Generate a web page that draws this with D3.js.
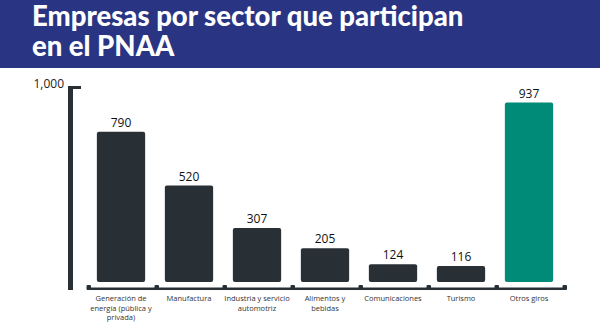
<!DOCTYPE html>
<html>
<head>
<meta charset="utf-8">
<script src="https://cdn.jsdelivr.net/npm/d3@7"></script>
<style>
  body { margin: 0; background: #fff; }
  svg { display: block; }
</style>
</head>
<body>
<div id="chart"></div>
<script>
// data
var categories = [
    ["Generación de", "energía (pública y", "privada)"],
    ["Manufactura"],
    ["Industria y servicio", "automotriz"],
    ["Alimentos y", "bebidas"],
    ["Comunicaciones"],
    ["Turismo"],
    ["Otros giros"]
];
var values = [790, 520, 307, 205, 124, 116, 937];
var yTicks = [1000];
var titleLines = ["Empresas por sector que participan", "en el PNAA"];

var width = 600, height = 324;
var dark = "#283036", teal = "#008a78", navy = "#293583";

var svg = d3.select("#chart").append("svg")
    .attr("width", width)
    .attr("height", height);

// header band
svg.append("rect")
    .attr("x", 0).attr("y", 0)
    .attr("width", width).attr("height", 68)
    .attr("fill", navy);

svg.selectAll(".title")
    .data(titleLines)
    .enter().append("text")
    .attr("class", "title")
    .attr("x", 32)
    .attr("y", function(d, i) { return 26 + i * 30; })
    .attr("fill", "#fff")
    .style("font-family", "Lato, sans-serif")
    .style("font-weight", 900)
    .style("font-size", "27.5px")
    .text(function(d) { return d; });

// scales
var keys = d3.range(values.length);
var xScale = d3.scaleBand()
    .domain(keys)
    .range([87, 563])
    .paddingInner(0.29)
    .paddingOuter(0.145);

var yScale = d3.scaleLinear()
    .domain([0, 1000])
    .range([289, 90]);

var x0 = xScale.range()[0];
var step = xScale.step();

// y axis: thick bar with a tick at the top
var yTop = yScale(1000) - 4;
svg.append("rect")
    .attr("x", 68).attr("y", yTop)
    .attr("width", 5).attr("height", yScale(0) + 1 - yTop)
    .attr("fill", dark);
svg.selectAll(".ytick")
    .data(yTicks)
    .enter().append("rect")
    .attr("class", "ytick")
    .attr("x", 68)
    .attr("y", function(d) { return yScale(d) - 4; })
    .attr("width", 13).attr("height", 3)
    .attr("fill", dark);
svg.selectAll(".ylabel")
    .data(yTicks)
    .enter().append("text")
    .attr("class", "ylabel")
    .attr("x", 64)
    .attr("y", function(d) { return yScale(d) - 2; })
    .attr("text-anchor", "end")
    .attr("fill", "#222")
    .style("font-family", "'Open Sans', sans-serif")
    .style("font-size", "12px")
    .text(d3.format(","));

// baseline with square markers at band edges
svg.append("rect")
    .attr("x", x0)
    .attr("y", yScale(0) - 1.5)
    .attr("width", step * values.length + 3)
    .attr("height", 2.5)
    .attr("fill", dark);
svg.selectAll(".marker")
    .data(d3.range(values.length + 1))
    .enter().append("rect")
    .attr("class", "marker")
    .attr("x", function(d) { return x0 + d * step - 0.5; })
    .attr("y", yScale(0) - 4)
    .attr("width", 4.5).attr("height", 5)
    .attr("rx", 1)
    .attr("fill", dark);

// bars
svg.selectAll(".bar")
    .data(values)
    .enter().append("rect")
    .attr("class", "bar")
    .attr("x", function(d, i) { return xScale(i); })
    .attr("y", function(d) { return yScale(d); })
    .attr("width", xScale.bandwidth())
    .attr("height", function(d) { return yScale(0) - 7 - yScale(d); })
    .attr("rx", 2)
    .attr("fill", function(d, i) { return i == values.length - 1 ? teal : dark; });

// value labels
svg.selectAll(".val")
    .data(values)
    .enter().append("text")
    .attr("class", "val")
    .attr("x", function(d, i) { return xScale(i) + xScale.bandwidth() / 2; })
    .attr("y", function(d) { return yScale(d) - 5; })
    .attr("text-anchor", "middle")
    .attr("fill", "#111")
    .style("font-family", "'Open Sans', sans-serif")
    .style("font-size", "12px")
    .text(function(d) { return d; });

// category labels
var cat = svg.selectAll(".cat")
    .data(categories)
    .enter().append("text")
    .attr("class", "cat")
    .attr("text-anchor", "middle")
    .attr("fill", "#333")
    .style("font-family", "'Open Sans', sans-serif")
    .style("font-size", "7.5px");
cat.selectAll("tspan")
    .data(function(d, i) { return d.map(function(s) { return {s: s, i: i}; }); })
    .enter().append("tspan")
    .attr("x", function(d) { return xScale(d.i) + xScale.bandwidth() / 2; })
    .attr("y", function(d, j) { return 301 + j * 9.5; })
    .text(function(d) { return d.s; });
</script>
</body>
</html>
